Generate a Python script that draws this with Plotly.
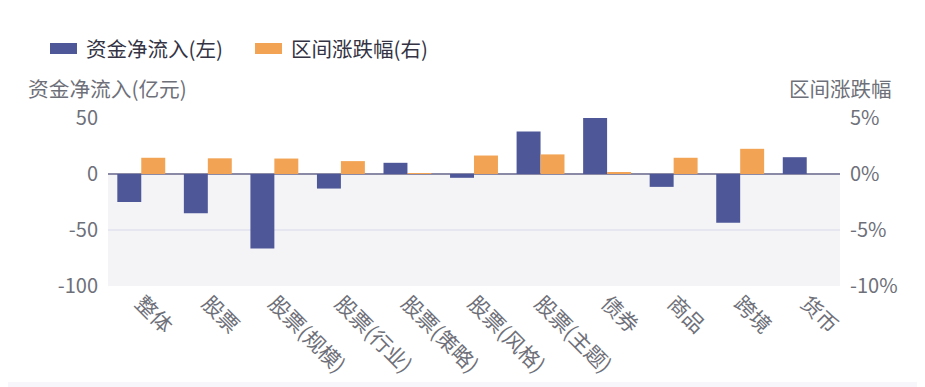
import plotly.graph_objects as go

categories = ["整体", "股票", "股票(规模)", "股票(行业)", "股票(策略)", "股票(风格)",
              "股票(主题)", "债券", "商品", "跨境", "货币"]
net_inflow = [-25, -35, -66.5, -13, 10, -3.4, 38, 50, -11.5, -43.5, 15]
pct_change = [1.45, 1.4, 1.38, 1.15, 0.05, 1.65, 1.75, 0.17, 1.45, 2.25, 0]

left_ticks = [-100, -50, 0, 50]
left_labels = ["-100", "-50", "0", "50"]
right_ticks = [-10, -5, 0, 5]
right_labels = ["-10%", "-5%", "0%", "5%"]

BLUE = "#4e5899"
ORANGE = "#f2a354"
TXT = "#6e7079"
FONT = "Noto Sans CJK SC"

fig = go.Figure()
fig.add_trace(go.Bar(x=categories, y=net_inflow, name="资金净流入(左)",
                     marker=dict(color=BLUE, line=dict(width=0)),
                     offsetgroup="a", yaxis="y"))
fig.add_trace(go.Bar(x=categories, y=pct_change, name="区间涨跌幅(右)",
                     marker=dict(color=ORANGE, line=dict(width=0)),
                     offsetgroup="b", yaxis="y2"))

def px(X):
    return (X - 108) / 732

def py(Y):
    return (286 - Y) / 168

shapes = [
    dict(type="rect", xref="paper", yref="y", x0=0, x1=1, y0=-100, y1=0,
         fillcolor="#f4f4f7", line=dict(width=0), layer="below"),
    dict(type="rect", xref="paper", yref="paper", x0=px(-20), x1=px(950), y0=py(400), y1=py(382),
         fillcolor="#f6f6fb", line=dict(width=0), layer="below"),
    dict(type="rect", xref="paper", yref="paper",
         x0=px(50), x1=px(77), y0=py(54), y1=py(43),
         fillcolor=BLUE, line=dict(width=0)),
    dict(type="rect", xref="paper", yref="paper",
         x0=px(255), x1=px(282), y0=py(54), y1=py(43),
         fillcolor=ORANGE, line=dict(width=0)),
]

annotations = [
    dict(text="资金净流入(左)", xref="paper", yref="paper", x=px(84), y=py(48.5),
         xanchor="left", yanchor="middle", showarrow=False, font=dict(size=20.5, color="#333344", family=FONT)),
    dict(text="区间涨跌幅(右)", xref="paper", yref="paper", x=px(289), y=py(48.5),
         xanchor="left", yanchor="middle", showarrow=False, font=dict(size=20.5, color="#333344", family=FONT)),
    dict(text="资金净流入(亿元)", xref="paper", yref="paper", x=px(26), y=py(88),
         xanchor="left", yanchor="middle", showarrow=False, font=dict(size=20.7, color=TXT, family=FONT)),
    dict(text="区间涨跌幅", xref="paper", yref="paper", x=px(894), y=py(88),
         xanchor="right", yanchor="middle", showarrow=False, font=dict(size=20.5, color=TXT, family=FONT)),
]

fig.update_layout(
    width=925, height=387,
    margin=dict(l=100, r=93, t=110, b=109),
    paper_bgcolor="white", plot_bgcolor="white",
    showlegend=False,
    barmode="group", bargap=0.28, bargroupgap=0,
    font=dict(family=FONT, color=TXT, size=20),
    shapes=shapes, annotations=annotations,
    xaxis=dict(tickangle=45, tickfont=dict(size=21, color=TXT), showgrid=False,
               ticks="", showline=False, zeroline=False, automargin=False),
    yaxis=dict(range=[-100, 50], tickvals=left_ticks, ticktext=left_labels,
               tickfont=dict(size=20, color=TXT), ticklabelstandoff=9,
               showgrid=True, gridcolor="#e6e6f0", gridwidth=1.5,
               zeroline=True, zerolinecolor="#8a8aa6", zerolinewidth=2,
               showline=False, ticks="", automargin=False),
    yaxis2=dict(range=[-10, 5], tickvals=right_ticks, ticktext=right_labels,
                overlaying="y", side="right", ticklabelstandoff=9,
                tickfont=dict(size=20, color=TXT), showgrid=False, zeroline=False,
                showline=False, automargin=False),
)

fig.write_html("out.html")
